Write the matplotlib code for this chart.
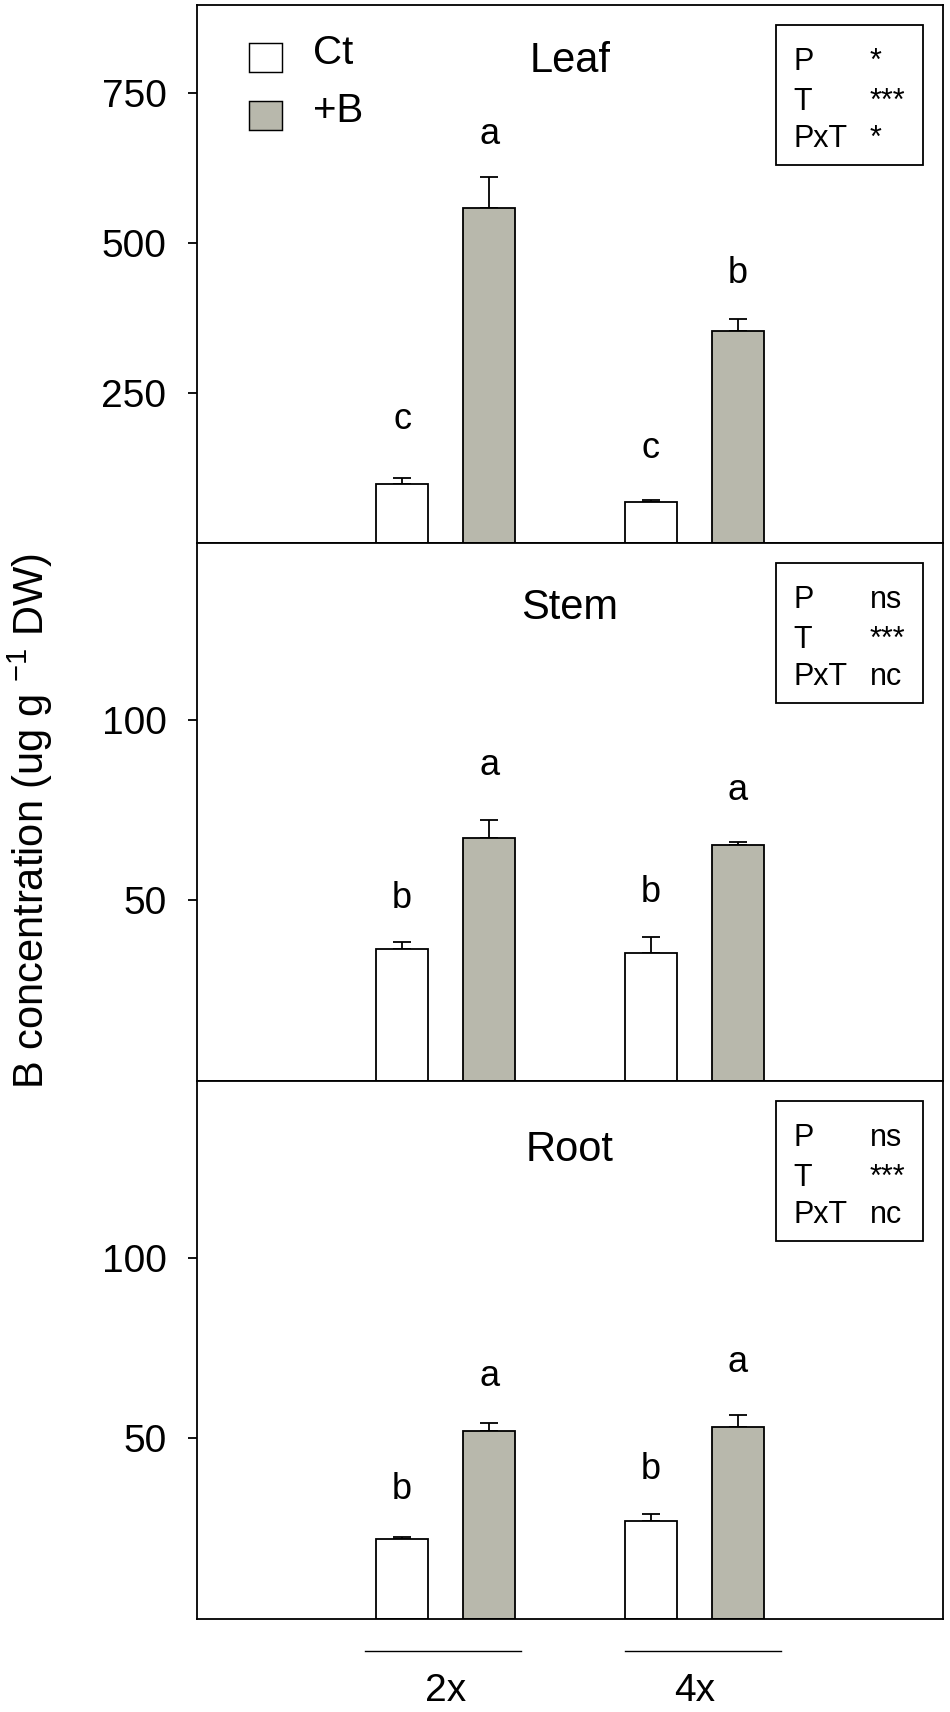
import matplotlib
matplotlib.use("Agg")
import matplotlib.pyplot as plt
import matplotlib.transforms as mtransforms
from matplotlib.patches import Rectangle
import numpy as np

plt.rcParams['font.family'] = ['Liberation Sans', 'DejaVu Sans']
plt.rcParams['mathtext.fontset'] = 'custom'
plt.rcParams['mathtext.rm'] = 'Liberation Sans'
plt.rcParams['mathtext.default'] = 'regular'

# data
groups = ['2x', '4x']
treatments = ['Ct', '+B']
tissues = ['Leaf', 'Stem', 'Root']

leaf_ct = [99, 68.5]
leaf_ct_err = [8.8, 3.2]
leaf_b = [557.8, 353.2]
leaf_b_err = [51.7, 20.8]

stem_ct = [36.6, 35.4]
stem_ct_err = [2.0, 4.5]
stem_b = [67.3, 65.4]
stem_b_err = [5.1, 0.7]

root_ct = [22.05, 27.1]
root_ct_err = [0.7, 2.0]
root_b = [52.2, 53.3]
root_b_err = [2.0, 3.3]

# significance letters (Ct 2x, Ct 4x) and (+B 2x, +B 4x), with baseline heights
leaf_letters_ct = ['c', 'c']
leaf_letters_b = ['a', 'b']
leaf_letter_y_ct = [190, 141.7]
leaf_letter_y_b = [665.7, 433.3]

stem_letters_ct = ['b', 'b']
stem_letters_b = ['a', 'a']
stem_letter_y_ct = [47.9, 49.6]
stem_letter_y_b = [84.7, 77.7]

root_letters_ct = ['b', 'b']
root_letters_b = ['a', 'a']
root_letter_y_ct = [33.3, 38.8]
root_letter_y_b = [64.4, 68.5]

# ANOVA summary per panel
stat_terms = ['P', 'T', 'PxT']
leaf_stats = ['*', '***', '*']
stem_stats = ['ns', '***', 'nc']
root_stats = ['ns', '***', 'nc']

leaf_ylim = 897
stem_ylim = 149
root_ylim = 149
leaf_ticks = [250, 500, 750]
stem_ticks = [50, 100]
root_ticks = [50, 100]

panels = [
    ('Leaf', leaf_ct, leaf_ct_err, leaf_b, leaf_b_err, leaf_letters_ct, leaf_letters_b,
     leaf_letter_y_ct, leaf_letter_y_b, leaf_stats, leaf_ylim, leaf_ticks, 0.876),
    ('Stem', stem_ct, stem_ct_err, stem_b, stem_b_err, stem_letters_ct, stem_letters_b,
     stem_letter_y_ct, stem_letter_y_b, stem_stats, stem_ylim, stem_ticks, 0.859),
    ('Root', root_ct, root_ct_err, root_b, root_b_err, root_letters_ct, root_letters_b,
     root_letter_y_ct, root_letter_y_b, root_stats, root_ylim, root_ticks, 0.852),
]

gray = '#b8b8ac'
x = np.arange(len(groups))
off = 0.175
w = 0.21
lw = 1.3

fig = plt.figure(figsize=(9.5, 17.12), dpi=100)
H = 1712.0
left, width = 197 / 950, 746 / 950
tops = [5, 543, 1081]
ph = 538

axes = []
for i, p in enumerate(panels):
    (name, ct, ct_err, b, b_err, let_ct, let_b, ly_ct, ly_b, stats, ymax, ticks, ty) = p
    bottom = (H - tops[i] - ph) / H
    ax = fig.add_axes([left, bottom, width, ph / H])
    axes.append(ax)

    ax.bar(x - off, ct, w, color='white', edgecolor='black', linewidth=lw, zorder=2)
    ax.bar(x + off, b, w, color=gray, edgecolor='black', linewidth=lw, zorder=2)
    ax.errorbar(x - off, ct, yerr=[np.zeros(len(ct)), ct_err], fmt='none',
                ecolor='black', elinewidth=lw, capsize=6.2, capthick=lw, zorder=1)
    ax.errorbar(x + off, b, yerr=[np.zeros(len(b)), b_err], fmt='none',
                ecolor='black', elinewidth=lw, capsize=6.2, capthick=lw, zorder=1)

    for j in range(len(groups)):
        ax.text(x[j] - off, ly_ct[j], let_ct[j], ha='center', va='baseline', fontsize=26)
        ax.text(x[j] + off, ly_b[j], let_b[j], ha='center', va='baseline', fontsize=26)

    ax.set_xlim(-1, 2)
    ax.set_ylim(0, ymax)
    ax.set_yticks(ticks)
    ax.tick_params(axis='y', direction='out', length=6.5, width=lw, pad=15.5, labelsize=28)
    ax.tick_params(axis='x', length=0)
    ax.set_xticks([])
    for s in ax.spines.values():
        s.set_linewidth(lw)

    # panel title
    ax.text(0.5, ty, name, transform=mtransforms.blended_transform_factory(ax.transData, ax.transAxes),
            ha='center', va='baseline', fontsize=30)

    # stats box
    ax.add_patch(Rectangle((0.776, 0.703), 0.197, 0.26, transform=ax.transAxes,
                           facecolor='white', edgecolor='black', linewidth=lw, zorder=3))
    for k, (term, val) in enumerate(zip(stat_terms, stats)):
        yy = [0.879, 0.805, 0.736][k]
        ax.text(0.799, yy, term, transform=ax.transAxes, ha='left', va='baseline',
                fontsize=22, zorder=4)
        ax.text(0.902, yy, val, transform=ax.transAxes, ha='left', va='baseline',
                fontsize=22, zorder=4)

# legend in the leaf panel
ax0 = axes[0]
for lab, col, yb in zip(treatments, ['white', gray], [0.8755, 0.7677]):
    ax0.add_patch(Rectangle((0.0697, yb), 0.0442, 0.053, transform=ax0.transAxes,
                            facecolor=col, edgecolor='black', linewidth=lw * 0.8))
ax0.text(0.1555, 0.8755, treatments[0], transform=ax0.transAxes, ha='left', va='bottom', fontsize=29)
ax0.text(0.1555, 0.7677, treatments[1], transform=ax0.transAxes, ha='left', va='bottom', fontsize=29)

# group labels and lines under the bottom panel
axr = axes[-1]
trans = mtransforms.blended_transform_factory(axr.transData, axr.transAxes)
line_centers = x + np.array([-0.01, 0.035])
for j, g in enumerate(groups):
    axr.plot([line_centers[j] - 0.314, line_centers[j] + 0.314], [-0.059, -0.059],
             color='black', linewidth=1.0, transform=trans, clip_on=False)
    axr.text(x[j], -0.153, g, transform=trans, ha='center', va='baseline', fontsize=28)

fig.text(30 / 950, (H - 821) / H, r'B concentration (ug g $^{-1}$ DW)', rotation=90,
         ha='center', va='center', fontsize=30)

fig.savefig('out.png', dpi=100)
